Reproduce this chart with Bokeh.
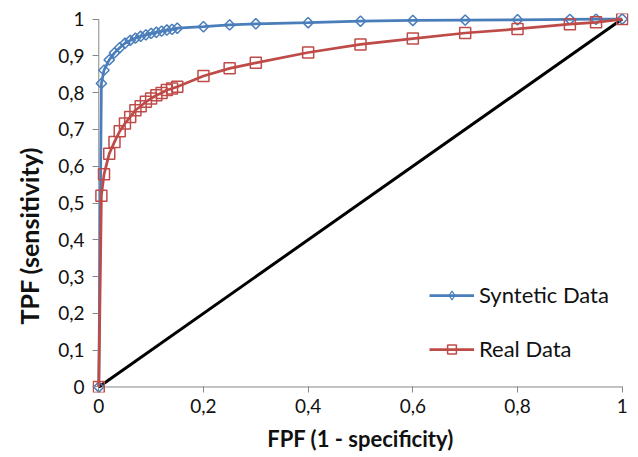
import math
from bokeh.plotting import figure
from bokeh.models import (Range1d, FixedTicker, Legend, LegendItem, Title,
                          ColumnDataSource)
from bokeh.embed import file_html
from bokeh.resources import INLINE

fpf = [0, 0.005, 0.01, 0.02, 0.03, 0.04, 0.05, 0.06, 0.07, 0.08, 0.09, 0.10,
       0.11, 0.12, 0.13, 0.14, 0.15, 0.2, 0.25, 0.3, 0.4, 0.5, 0.6, 0.7, 0.8,
       0.9, 0.95, 1.0]
tpf_synthetic = [0, 0.825, 0.861, 0.889, 0.908, 0.922, 0.934, 0.942, 0.948,
                 0.953, 0.957, 0.961, 0.964, 0.967, 0.970, 0.972, 0.975, 0.979,
                 0.984, 0.987, 0.990, 0.994, 0.996, 0.997, 0.998, 0.999, 0.9995, 1.0]
tpf_real = [0, 0.52, 0.578, 0.634, 0.666, 0.695, 0.716, 0.734, 0.752, 0.763,
            0.775, 0.784, 0.793, 0.799, 0.807, 0.811, 0.816, 0.845, 0.866,
            0.881, 0.909, 0.931, 0.947, 0.962, 0.973, 0.986, 0.991, 1.0]
diag_x = [0, 1]
diag_y = [0, 1]

x_ticks = [0, 0.2, 0.4, 0.6, 0.8, 1]
x_tick_labels = ["0", "0,2", "0,4", "0,6", "0,8", "1"]
y_ticks = [0, 0.1, 0.2, 0.3, 0.4, 0.5, 0.6, 0.7, 0.8, 0.9, 1]
y_tick_labels = ["0", "0,1", "0,2", "0,3", "0,4", "0,5", "0,6", "0,7", "0,8", "0,9", "1"]

series_names = ["Syntetic Data", "Real Data"]
x_title = "FPF (1 - specificity)"
y_title = "TPF (sensitivity)"

FONT = "Lato"
BLUE = "#4A7EBB"
RED = "#BE4B48"
GREY = "#868686"
TXT = "#111111"

p = figure(width=638, height=457,
           x_range=Range1d(-0.012, 1.012), y_range=Range1d(-0.015, 1.015),
           output_backend="svg", toolbar_location=None,
           min_border_left=91, min_border_right=10, min_border_top=13,
           min_border_bottom=65)
p.outline_line_color = None
p.xgrid.visible = False
p.ygrid.visible = False

for ax in (p.xaxis[0], p.yaxis[0]):
    ax.axis_line_color = None
    ax.major_tick_line_color = GREY
    ax.major_tick_in = 6
    ax.major_tick_out = 0
    ax.minor_tick_line_color = None
    ax.major_label_text_font = FONT
    ax.major_label_text_font_size = "19px"
    ax.major_label_text_color = TXT

p.xaxis[0].ticker = FixedTicker(ticks=x_ticks)
p.xaxis[0].major_label_overrides = dict(zip(x_ticks, x_tick_labels))
p.yaxis[0].ticker = FixedTicker(ticks=y_ticks)
p.yaxis[0].major_label_overrides = dict(zip(y_ticks, y_tick_labels))
p.xaxis[0].major_label_standoff = 6
p.yaxis[0].major_label_standoff = 8

p.xaxis[0].axis_label = x_title
p.xaxis[0].axis_label_text_font = FONT
p.xaxis[0].axis_label_text_font_style = "bold"
p.xaxis[0].axis_label_text_font_size = "22px"
p.xaxis[0].axis_label_text_color = TXT
p.xaxis[0].axis_label_standoff = 9

p.add_layout(Title(text=y_title, align="left", offset=68, standoff=23,
                   text_font=FONT, text_font_style="bold",
                   text_font_size="25px", text_color=TXT), "left")

# axis lines along the tick extents
p.segment(x0=[x_ticks[0], x_ticks[0]], y0=[y_ticks[0], y_ticks[0]],
          x1=[x_ticks[0], x_ticks[-1]], y1=[y_ticks[-1], y_ticks[0]],
          line_color=GREY, line_width=1)

p.line(diag_x, diag_y, line_color="black", line_width=3)

syn_src = ColumnDataSource(data=dict(x=fpf, y=tpf_synthetic))
bl = p.line("x", "y", source=syn_src, line_color=BLUE, line_width=2.75)
bm = p.scatter("x", "y", source=syn_src, marker="square", angle=math.pi / 4,
               size=7.3, line_color=BLUE, fill_color=None, line_width=1.5)
bleg = p.scatter("x", "y", source=syn_src, marker="diamond", size=0,
                 line_color=BLUE, fill_color=None, line_width=1.2)
rl = p.line(fpf, tpf_real, line_color=RED, line_width=2.75)
rm = p.scatter(fpf, tpf_real, marker="square", size=11, line_color=RED,
               fill_color=None, line_width=1.5)

legend = Legend(items=[LegendItem(label=series_names[0], renderers=[bl, bleg]),
                       LegendItem(label=series_names[1], renderers=[rl, rm])],
                location=(337, 30))
legend.glyph_width = 45
legend.glyph_height = 22
legend.label_height = 22
legend.label_standoff = 5
legend.spacing = 27
legend.padding = 0
legend.margin = 0
legend.border_line_color = None
legend.background_fill_alpha = 0
legend.label_text_font = FONT
legend.label_text_font_size = "22px"
legend.label_text_color = TXT
p.add_layout(legend)

open("out.html", "w").write(file_html(p, INLINE))
